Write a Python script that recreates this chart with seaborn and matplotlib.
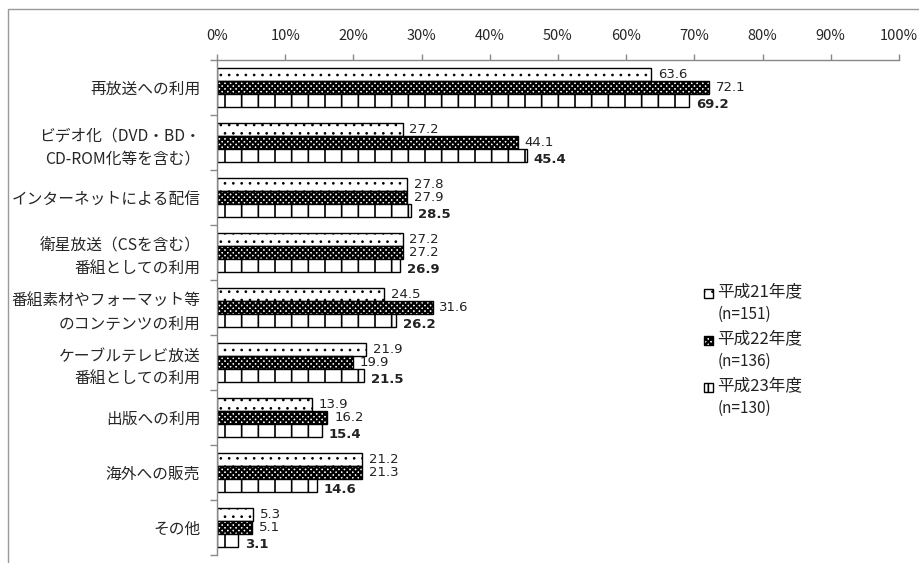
import matplotlib
matplotlib.use("Agg")
import matplotlib.pyplot as plt
from matplotlib.patches import Rectangle
import seaborn as sns
import pandas as pd

categories = [
    "再放送への利用",
    "ビデオ化（DVD・BD・\nCD-ROM化等を含む）",
    "インターネットによる配信",
    "衛星放送（CSを含む）\n番組としての利用",
    "番組素材やフォーマット等\nのコンテンツの利用",
    "ケーブルテレビ放送\n番組としての利用",
    "出版への利用",
    "海外への販売",
    "その他",
]
years = ["平成21年度", "平成22年度", "平成23年度"]
sample_sizes = ["(n=151)", "(n=136)", "(n=130)"]
h21 = [63.6, 27.2, 27.8, 27.2, 24.5, 21.9, 13.9, 21.2, 5.3]
h22 = [72.1, 44.1, 27.9, 27.2, 31.6, 19.9, 16.2, 21.3, 5.1]
h23 = [69.2, 45.4, 28.5, 26.9, 26.2, 21.5, 15.4, 14.6, 3.1]
x_ticks = [0, 10, 20, 30, 40, 50, 60, 70, 80, 90, 100]

sns.set_theme(style="white")
plt.rcParams["font.family"] = ["Noto Sans CJK JP", "DejaVu Sans"]
plt.rcParams["hatch.linewidth"] = 1.0

rows = []
for yr, vals in zip(years, [h21, h22, h23]):
    for c, v in zip(categories, vals):
        rows.append({"項目": c, "年度": yr, "割合": v})
df = pd.DataFrame(rows)

W, H = 919, 563
fig = plt.figure(figsize=(W / 100, H / 100), dpi=100)
ax = fig.add_axes([217 / W, 1 - 555 / H, (899 - 217) / W, (555 - 60) / H])

hatches = {"平成21年度": "..", "平成22年度": "xxxxxx", "平成23年度": "|"}
hatch_lw = {"平成21年度": 0.7, "平成22年度": 1.6, "平成23年度": 1.2}
sns.barplot(data=df, y="項目", x="割合", hue="年度", order=categories,
            hue_order=years, orient="h", width=0.72, ax=ax,
            palette=["white", "white", "white"], edgecolor="black",
            linewidth=1.0, legend=False, errorbar=None)


def style_patch(p, yr):
    p.set_hatch(hatches[yr])
    p.set_edgecolor("black")
    if hasattr(p, "set_hatch_linewidth"):
        p.set_hatch_linewidth(hatch_lw[yr])


for container, yr in zip(ax.containers, years):
    for bar in container:
        style_patch(bar, yr)

# value labels beside every bar; the latest year is shown in bold
for container, yr, vals in zip(ax.containers, years, [h21, h22, h23]):
    bold = yr == "平成23年度"
    for bar, v in zip(container, vals):
        yc = bar.get_y() + bar.get_height() / 2
        ax.annotate(f"{v:.1f}", xy=(bar.get_width(), yc),
                    xytext=(5, -3 if bold else 0), textcoords="offset points",
                    ha="left", va="center", fontsize=9.5,
                    family=["DejaVu Sans"],
                    fontweight="bold" if bold else "normal", color="#222222")

ax.set_xlim(0, 100)
ax.set_ylim(len(categories) - 0.5, -0.5)
ax.xaxis.tick_top()
ax.set_xticks(x_ticks)
ax.set_xticklabels([f"{t}%" for t in x_ticks], fontsize=10.5)
ax.set_yticks(range(len(categories)))
ax.set_yticklabels(categories, fontsize=11.3, linespacing=1.45)
ax.set_xlabel("")
ax.set_ylabel("")
ax.tick_params(axis="x", which="major", length=4, width=1, color="#888888",
               direction="out", pad=8, top=True, bottom=False)
ax.tick_params(axis="y", which="major", length=0, pad=12)
# category separators on the vertical axis
ax.set_yticks([i + 0.5 for i in range(-1, len(categories))], minor=True)
ax.tick_params(axis="y", which="minor", length=5, width=1, color="#888888",
               direction="out", left=True)
for side in ["right", "bottom"]:
    ax.spines[side].set_visible(False)
for side in ["top", "left"]:
    ax.spines[side].set_color("#888888")
    ax.spines[side].set_linewidth(1)

# outer chart frame
fig.patches.append(Rectangle((8 / W, -0.1), 1.2, 1 - 9 / H + 0.1,
                             transform=fig.transFigure, fill=False,
                             edgecolor="#999999", linewidth=1))

# legend drawn beside the plot
for i, (yr, n) in enumerate(zip(years, sample_sizes)):
    top = 286 + i * 47
    icon = Rectangle((704 / W, 1 - (top + 12) / H), 9 / W, 9 / H,
                     transform=fig.transFigure, facecolor="white",
                     edgecolor="black", linewidth=1)
    style_patch(icon, yr)
    fig.patches.append(icon)
    fig.text(717 / W, 1 - (top + 6) / H, yr, fontsize=12, va="center",
             ha="left", color="#222222")
    fig.text(718 / W, 1 - (top + 28) / H, n, fontsize=11, va="center",
             ha="left", color="#222222")

fig.savefig("out.png", dpi=100)
